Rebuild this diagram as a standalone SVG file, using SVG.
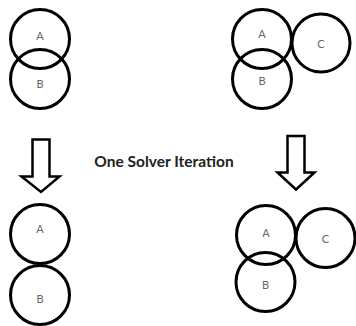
<svg xmlns="http://www.w3.org/2000/svg" width="356" height="326" viewBox="0 0 356 326">
<style>
.c{fill:none;stroke:#000;stroke-width:3}
.l{font-family:Lato,"Open Sans",sans-serif;font-size:11px;fill:#666;text-anchor:middle;dominant-baseline:central}
.ar{fill:#fff;stroke:#000;stroke-width:2.5;stroke-linejoin:miter}
.t{font-family:Lato,"Open Sans",sans-serif;font-size:15.5px;font-weight:bold;fill:#222;text-anchor:middle}
</style>
<rect width="356" height="326" fill="#fff"/>
<g id="tl-A"><circle class="c" cx="40" cy="39" r="29.5"/><text class="l" x="40" y="35">A</text></g>
<g id="tl-B"><circle class="c" cx="40" cy="79" r="29.5"/><text class="l" x="40" y="83">B</text></g>
<g id="tr-A"><circle class="c" cx="262" cy="39" r="29.5"/><text class="l" x="262" y="33">A</text></g>
<g id="tr-B"><circle class="c" cx="262" cy="79" r="29.5"/><text class="l" x="262" y="80">B</text></g>
<g id="tr-C"><circle class="c" cx="321" cy="43" r="29"/><text class="l" x="321" y="43">C</text></g>
<g id="bl-A"><circle class="c" cx="40" cy="234" r="29.5"/><text class="l" x="40" y="228">A</text></g>
<g id="bl-B"><circle class="c" cx="40" cy="295" r="29.5"/><text class="l" x="40" y="298">B</text></g>
<g id="br-A"><circle class="c" cx="266" cy="235" r="29.5"/><text class="l" x="266" y="232">A</text></g>
<g id="br-B"><circle class="c" cx="265.5" cy="282" r="29.5"/><text class="l" x="265.5" y="284">B</text></g>
<g id="br-C"><circle class="c" cx="325.5" cy="238" r="29.5"/><text class="l" x="325.5" y="238">C</text></g>
<g id="connectors">
<path class="ar" d="M32.5,139.5 H49.5 V176.5 H59.5 L41,192 L21.5,176.5 H32.5 Z"/>
<path class="ar" d="M287.5,136 H304.5 V172.5 H314.5 L296,189.5 L277.5,172.5 H287.5 Z"/>
</g>
<text class="t" x="164" y="166.5">One Solver Iteration</text>
</svg>
